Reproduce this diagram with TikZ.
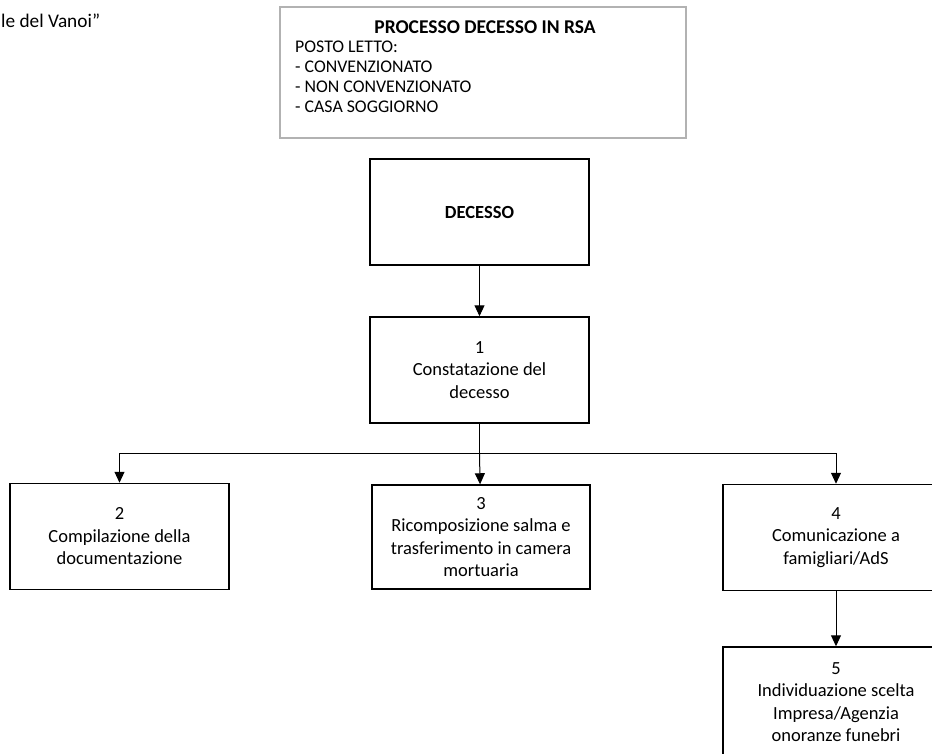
\documentclass[tikz,border=0pt]{standalone}
\usepackage{fontspec}
\setmainfont{Carlito}
\usetikzlibrary{arrows.meta}

\tikzstyle{stage}=[rectangle,draw,line width=1.5pt,minimum width=219pt,minimum height=106pt,inner sep=2pt,align=center,font=\fontsize{18.5}{22.5}\selectfont]
\tikzstyle{header}=[rectangle,draw=black!30,line width=1.2pt,minimum width=406pt,minimum height=131pt]
\tikzstyle{item}=[anchor=west,inner sep=0pt,font=\fontsize{17.8}{20}\selectfont]
\tikzstyle{link}=[draw,line width=1pt,-{Triangle[width=10pt,length=11pt]}]
\tikzstyle{wire}=[draw,line width=1pt]

\begin{document}
\begin{tikzpicture}[x=1pt,y=-1pt]
		\useasboundingbox (0,0) rectangle (932,753);
		\node [anchor=west,inner sep=0pt,font=\fontsize{19.3}{23}\selectfont] (doc) at (1,21) {le del Vanoi”};

		\node [header] (hdr)    at (483,72.5) {};
		\node [font=\fontsize{19.5}{22}\selectfont\bfseries] (title) at (485,27) {PROCESSO DECESSO IN RSA};
		\node [item]   (posto)  at (295,47)  {POSTO LETTO:};
		\node [item]   (conv)   at (295,67)  {- CONVENZIONATO};
		\node [item]   (nonconv) at (295,87) {- NON CONVENZIONATO};
		\node [item]   (casa)   at (295,107) {- CASA SOGGIORNO};

		\node [stage,font=\fontsize{18.5}{22.5}\selectfont\bfseries] (death) at (479.5,212) {DECESSO};
		\node [stage] (s1) at (479.5,370)  {1\\Constatazione del\\decesso};
		\node [stage] (s2) at (119.5,536.5) {2\\Compilazione della\\documentazione};
		\node [stage,minimum width=218pt,minimum height=104pt] (s3) at (481,537) {3\\Ricomposizione salma e\\trasferimento in camera\\mortuaria};
		\node [stage,minimum width=226pt] (s4) at (836,537.5) {4\\Comunicazione a\\famigliari/AdS};
		\node [stage,minimum width=226pt,minimum height=110pt] (s5) at (836,702) {5\\Individuazione scelta\\Impresa/Agenzia\\onoranze funebri};
		\coordinate (split) at (479.5,453);

		\draw [link] (death) -- (s1);
		\draw [wire] (s1)    -- (split);
		\draw [link] (split) -| (s2);
		\draw [link] (split) -- (s3);
		\draw [link] (split) -| (s4);
		\draw [link] (s4)    -- (s5);
	\end{tikzpicture}
\end{document}
